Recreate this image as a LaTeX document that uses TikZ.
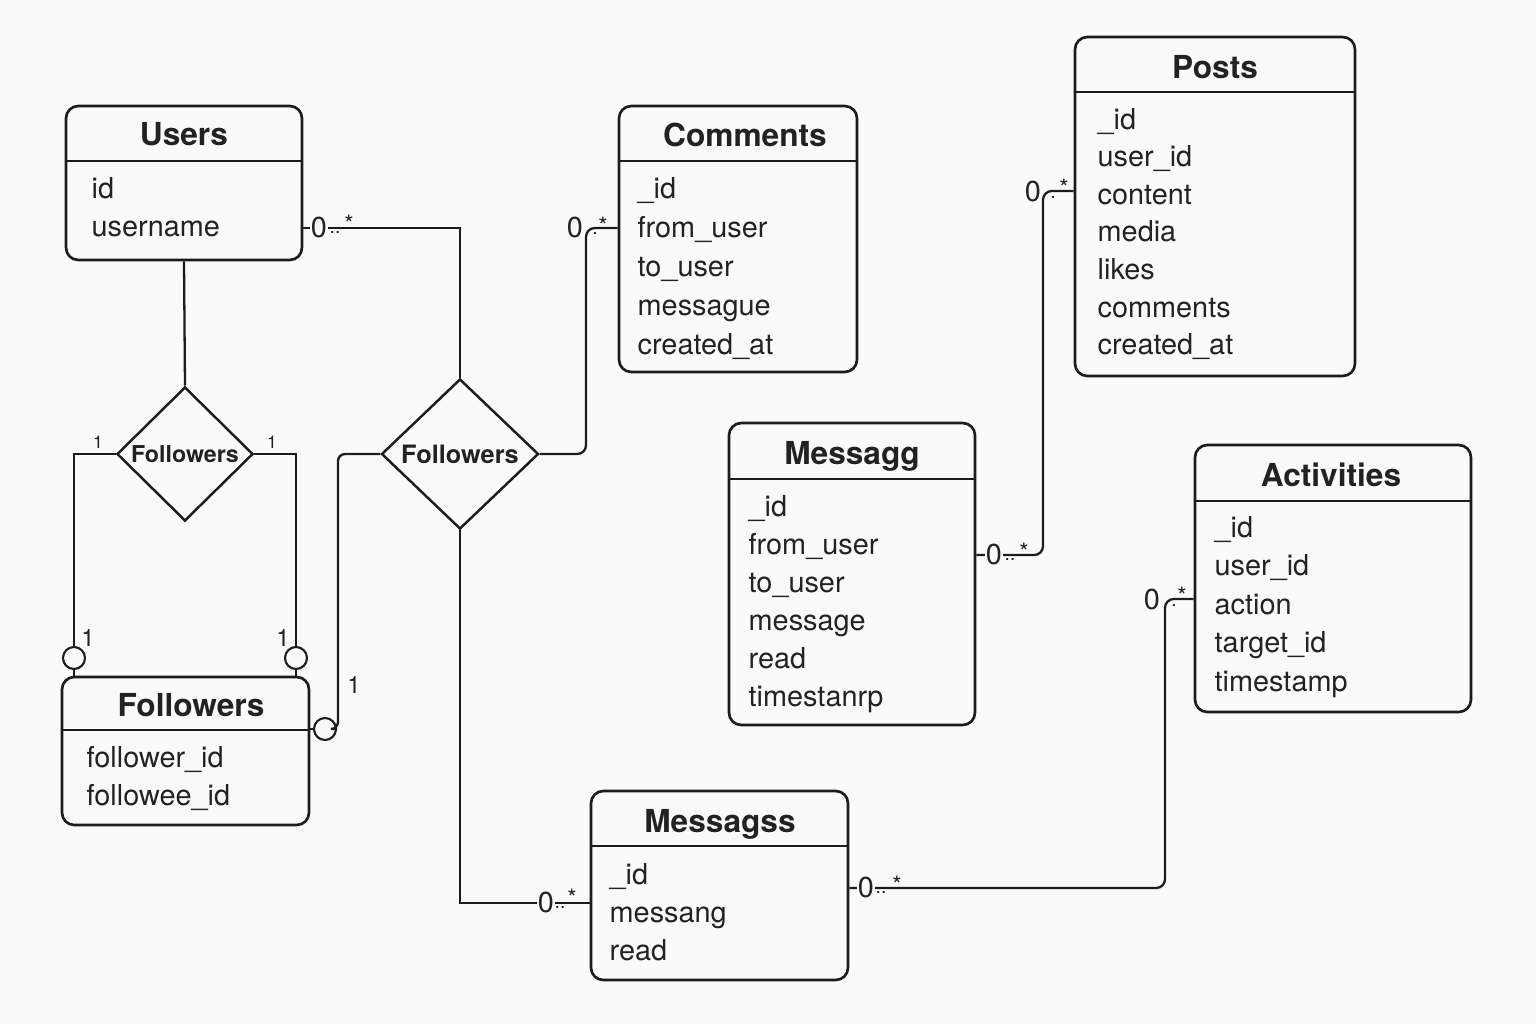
\documentclass[tikz,border=0pt]{standalone}
\usepackage{fontspec}
\setmainfont{TeX Gyre Heros}
\usetikzlibrary{shapes.geometric, fit}
\definecolor{Ink}     {RGB}{28, 28, 28}
\definecolor{Paper}   {RGB}{250,250,250}
\definecolor{TxtGray} {RGB}{34, 34, 34}

\begin{document}
\begin{tikzpicture}[x=0.01cm, y=-0.01cm,
  ebox/.style={draw=Ink, line width=0.75pt, rounded corners=3.5pt, inner sep=0pt},
  hdr/.style={draw=Ink, line width=0.7pt},
  ttl/.style={font=\fontsize{9}{11}\selectfont\bfseries, text=TxtGray, anchor=base},
  fld/.style={font=\fontsize{8.2}{10}\selectfont, text=TxtGray, anchor=base west, inner sep=0pt},
  rel/.style={diamond, draw=Ink, line width=0.7pt, inner sep=0pt,
              font=\fontsize{6.6}{8}\selectfont\bfseries, text=TxtGray},
  link/.style={draw=Ink, line width=0.65pt},
  opt/.style={circle, draw=Ink, fill=Paper, line width=0.6pt, minimum size=0.22cm, inner sep=0pt},
  one/.style={font=\fontsize{6.8}{8}\selectfont, text=TxtGray, inner sep=0pt},
  onesm/.style={font=\fontsize{5}{6}\selectfont, text=TxtGray, inner sep=0pt},
  zero/.style={font=\fontsize{8.2}{10}\selectfont, text=TxtGray, inner sep=0.4pt},
  dots/.style={font=\fontsize{5.5}{6}\selectfont, text=TxtGray, inner sep=0pt},
  star/.style={font=\fontsize{6.8}{8}\selectfont, text=TxtGray, inner sep=0pt, anchor=north}
]
  \fill[Paper] (0,0) rectangle (1536,1024);

  %% Users
  \node[ebox, fit={(66,106) (302,260)}] (users) {};
  \draw[hdr] (users.west |- 0,161) -- (users.east |- 0,161);
  \node[ttl] (users-t) at (184,145) {Users};
  \foreach \f [count=\i] in {id, username}
    \node[fld] (users-\i) at (91,{198+(\i-1)*38}) {\f};

  %% Comments
  \node[ebox, fit={(619,106) (857,372)}] (comm) {};
  \draw[hdr] (comm.west |- 0,161) -- (comm.east |- 0,161);
  \node[ttl] (comm-t) at (745,146) {Comments};
  \foreach \f [count=\i] in {\_id, from\_user, to\_user, messague, created\_at}
    \node[fld] (comm-\i) at (637,{198+(\i-1)*39}) {\f};

  %% Posts
  \node[ebox, fit={(1075,37) (1355,376)}] (posts) {};
  \draw[hdr] (posts.west |- 0,92) -- (posts.east |- 0,92);
  \node[ttl] (posts-t) at (1215,78) {Posts};
  \foreach \f [count=\i] in {\_id, user\_id, content, media, likes, comments, created\_at}
    \node[fld] (posts-\i) at (1097,{129+(\i-1)*37.6}) {\f};

  %% Messagg
  \node[ebox, fit={(729,423) (975,725)}] (msgg) {};
  \draw[hdr] (msgg.west |- 0,479) -- (msgg.east |- 0,479);
  \node[ttl] (msgg-t) at (852,464) {Messagg};
  \foreach \f [count=\i] in {\_id, from\_user, to\_user, message, read, timestanrp}
    \node[fld] (msgg-\i) at (748,{516+(\i-1)*38}) {\f};

  %% Activities
  \node[ebox, fit={(1195,445) (1471,712)}] (act) {};
  \draw[hdr] (act.west |- 0,501) -- (act.east |- 0,501);
  \node[ttl] (act-t) at (1331,486) {Activities};
  \foreach \f [count=\i] in {\_id, user\_id, action, target\_id, timestamp}
    \node[fld] (act-\i) at (1214,{537+(\i-1)*38.5}) {\f};

  %% Followers (entity)
  \node[ebox, fit={(62,677) (309,825)}] (fol) {};
  \draw[hdr] (fol.west |- 0,730) -- (fol.east |- 0,730);
  \node[ttl] (fol-t) at (191,716) {Followers};
  \foreach \f [count=\i] in {follower\_id, followee\_id}
    \node[fld] (fol-\i) at (86,{767+(\i-1)*38}) {\f};

  %% Messagss
  \node[ebox, fit={(591,791) (848,980)}] (msgs) {};
  \draw[hdr] (msgs.west |- 0,846) -- (msgs.east |- 0,846);
  \node[ttl] (msgs-t) at (720,832) {Messagss};
  \foreach \f [count=\i] in {\_id, messang, read}
    \node[fld] (msgs-\i) at (609,{884+(\i-1)*38}) {\f};

  %% Relationships
  \node[rel, minimum width=1.36cm, minimum height=1.34cm] (rel1) at (185,454) {Followers};
  \node[rel, minimum width=1.57cm, minimum height=1.50cm,
        font=\fontsize{7.2}{9}\selectfont\bfseries] (rel2) at (460,454) {Followers};

  %% Optional markers
  \node[opt] (c1) at (74,658) {};
  \node[opt] (c2) at (296,658) {};
  \node[opt] (c3) at (325,729) {};

  %% Users -- rel1 -- Followers
  \draw[link] (users.south) -- (rel1.north);
  \draw[link] (rel1.west) -| (c1.north);
  \draw[link] (c1.south) -- ++(0,8);
  \draw[link] (rel1.east) -| (c2.north);
  \draw[link] (c2.south) -- ++(0,8);

  %% rel2 -> Followers
  \draw[link, rounded corners=2pt] (rel2.west) -| (338,729) -- (c3.east);
  \draw[link] (c3.west) -- (fol.east |- c3.west);

  %% Users -> rel2
  \draw[link] (users.east |- 0,228) -| (rel2.north);

  %% rel2 -> Comments
  \draw[link, rounded corners=2.5pt] (rel2.east) -| (586,228) -- (comm.west |- 0,228);

  %% rel2 -> Messagss
  \draw[link] (rel2.south) |- (msgs.west |- 0,903);

  %% Messagg -> Posts
  \draw[link, rounded corners=2.5pt] (msgg.east |- 0,555) -| (1043,191) -- (posts.west |- 0,191);

  %% Messagss -> Activities
  \draw[link, rounded corners=2.5pt] (msgs.east |- 0,888) -| (1165,599) -- (act.west |- 0,599);

  %% Multiplicities
  \node[onesm] (n1) at (98,442) {1};
  \node[onesm] (n2) at (272,442) {1};
  \node[one] (n3) at (88,638) {1};
  \node[one] (n4) at (283,638) {1};
  \node[one] (n5) at (354,685) {1};

  \node[zero, fill=Paper] (m1) at (319,227) {0};
  \node[dots] (m1d) at (335,232) {..};
  \node[star] (m1s) at (349,214) {*};

  \node[zero] (m2) at (575,227) {0};
  \node[dots] (m2d) at (595,233) {.};
  \node[star] (m2s) at (603,216) {*};

  \node[zero, fill=Paper] (m3) at (546,902) {0};
  \node[dots] (m3d) at (560,907) {..};
  \node[star] (m3s) at (572,888) {*};

  \node[zero, fill=Paper] (m4) at (866,887) {0};
  \node[dots] (m4d) at (881,892) {..};
  \node[star] (m4s) at (897,875) {*};

  \node[zero, fill=Paper] (m5) at (994,554) {0};
  \node[dots] (m5d) at (1010,559) {..};
  \node[star] (m5s) at (1024,542) {*};

  \node[zero] (m6) at (1033,191) {0};
  \node[dots] (m6d) at (1053,197) {.};
  \node[star] (m6s) at (1064,178) {*};

  \node[zero] (m7) at (1152,599) {0};
  \node[dots] (m7d) at (1174,605) {.};
  \node[star] (m7s) at (1182,586) {*};
\end{tikzpicture}
\end{document}
